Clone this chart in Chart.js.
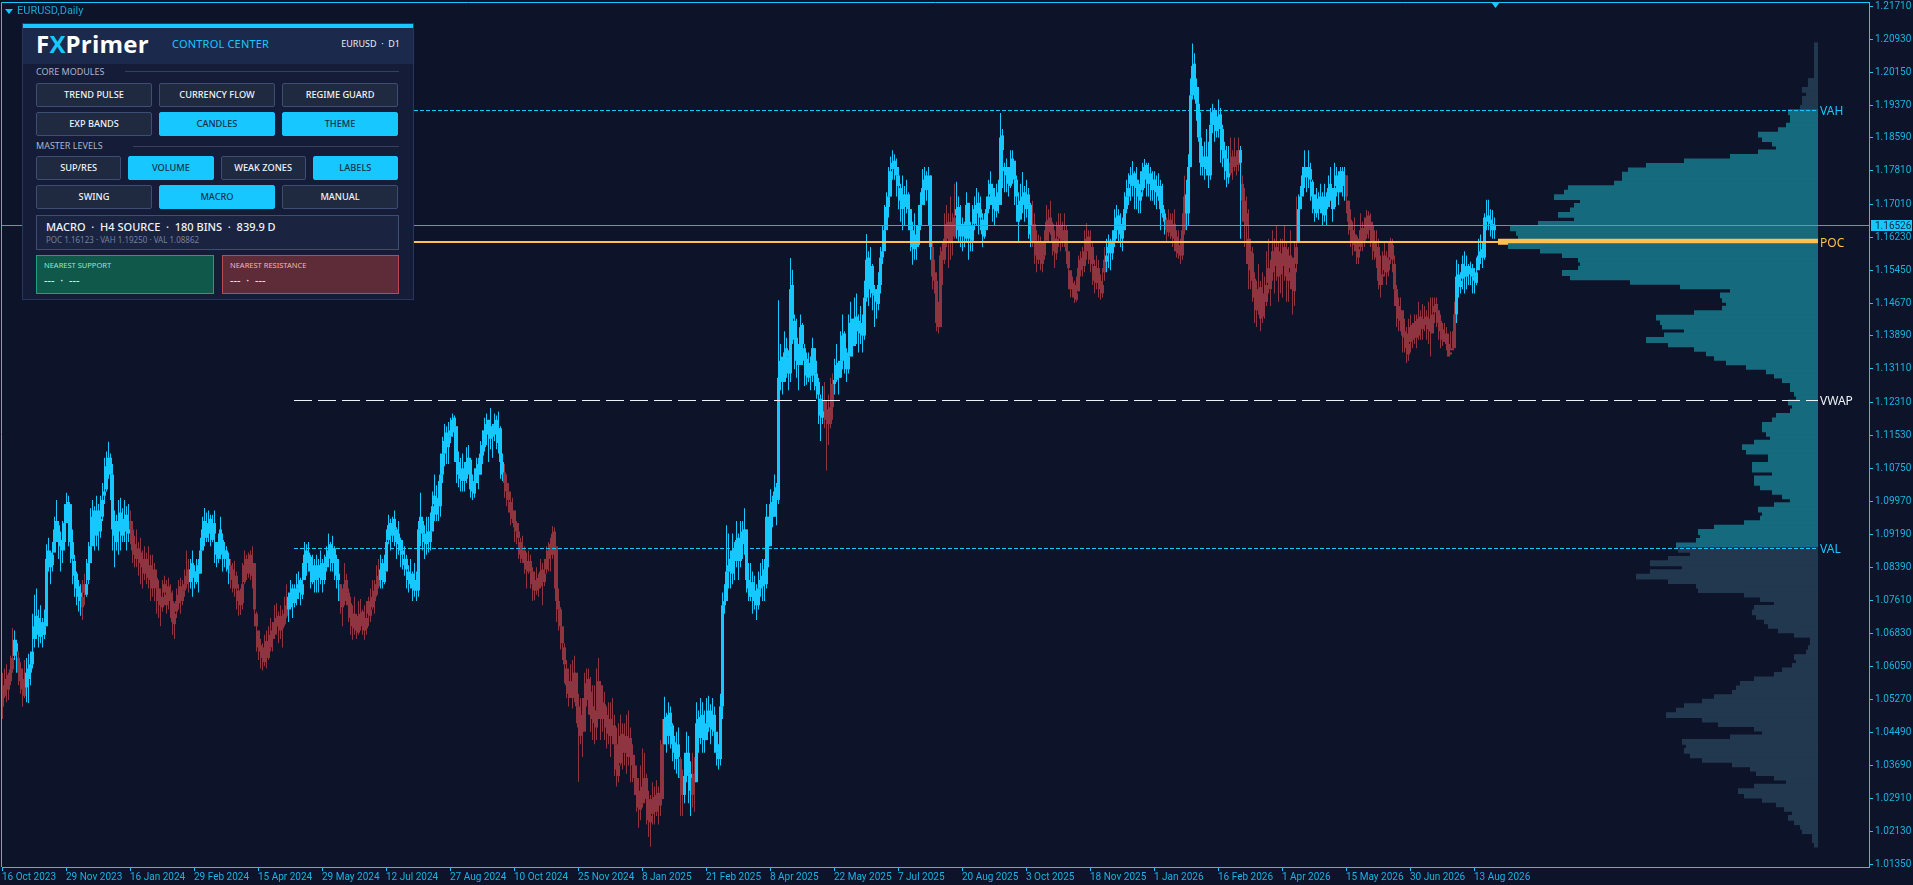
<!DOCTYPE html>
<html>
<head>
<meta charset="utf-8">
<title>EURUSD,Daily</title>
<script src="https://cdn.jsdelivr.net/npm/chart.js@4/dist/chart.umd.min.js"></script>
<style>
  html, body { margin: 0; padding: 0; background: #0d1328; overflow: hidden; }
  #stage { position: relative; width: 1913px; height: 885px; background: #0d1328; font-family: "Noto Sans", Roboto, sans-serif; }
  canvas { position: absolute; left: 0; top: 0; }
  #profile { z-index: 1; }
  #price { z-index: 2; }
  #symbol { position: absolute; z-index: 3; left: 17px; top: 3px; font: 11px/16px Roboto, sans-serif; color: #16a9d6; }
  #symbol-arrow { position: absolute; z-index: 3; left: 5px; top: 9px; border-left: 4px solid transparent; border-right: 4px solid transparent; border-top: 5px solid #17c7ff; }
  #panel { position: absolute; z-index: 3; left: 22px; top: 23px; width: 392px; height: 277px; background: #141c38; border: 1px solid #27365c; box-sizing: border-box; }
  #panel div { position: absolute; box-sizing: border-box; white-space: nowrap; }
  .stripe { left: 0; top: 0; width: 100%; height: 4px; background: #17c7ff; }
  .head { left: 0; top: 4px; width: 100%; height: 36px; background: #1b2a4c; }
  .logo { left: 13px; top: 7px; font: 700 24px/26px "Open Sans", sans-serif; color: #fff; letter-spacing: 0.2px; }
  .logo span { color: #17c7ff; }
  .title { left: 149px; top: 12px; font: 11px/16px "Noto Sans", sans-serif; color: #17c7ff; letter-spacing: 0.2px; }
  .pair { right: 13px; top: 13px; font: 9px/14px "Noto Sans", sans-serif; color: #e8eef8; }
  .group { left: 13px; font: 9px/12px "Noto Sans", sans-serif; color: #aab6cf; }
  .rule { height: 1px; background: #33415f; }
  .btn { height: 24px; line-height: 22px; text-align: center; font-size: 9.2px; font-weight: 500; color: #f0f4fa; background: #1f2a40; border: 1px solid #3d4d73; border-radius: 2px; }
  .btn.on { background: #17c7ff; border-color: #17c7ff; color: #14304a; }
  .info { left: 13px; top: 191px; width: 363px; height: 35px; background: #1a2340; border: 1px solid #3d4d73; }
  .info b { position: absolute; left: 9px; top: 3px; font: 500 11px/16px "Noto Sans", sans-serif; color: #eef3fa; white-space: nowrap; }
  .info i { position: absolute; left: 9px; top: 18px; font: normal 8px/12px "Noto Sans", sans-serif; color: #74829f; white-space: nowrap; }
  .near { top: 231px; height: 39px; border: 1px solid; }
  .near.sup { left: 13px; width: 178px; background: #10594a; border-color: #1f9f7c; }
  .near.res { left: 199px; width: 177px; background: #5e2b38; border-color: #bd4855; }
  .near u { position: absolute; left: 7px; top: 4px; font: 7.5px/10px "Noto Sans", sans-serif; text-decoration: none; white-space: nowrap; }
  .near.sup u { color: #9be4c8; }
  .near.res u { color: #f2b6bc; }
  .near em { position: absolute; left: 7px; top: 17px; font: normal 11px/14px "Noto Sans", sans-serif; color: #f0f4fa; white-space: nowrap; }
</style>
</head>
<body>
<div id="stage">
  <canvas id="profile" width="1913" height="885"></canvas>
  <canvas id="price" width="1913" height="885"></canvas>
  <div id="symbol-arrow"></div>
  <div id="symbol">EURUSD,Daily</div>
  <div id="panel"></div>
</div>
<script>
// daily candles in 1/10000 of a price, one line per 32 bars (= one date label)
const opens = [
10510,10535,10550,10585,10570,10598,10630,10660,10625,10600,10575,10535,10555,10575,10610,10610,10670,10690,10720,10675,10710,10680,10700,10850,10875,10845,10875,10925,10940,10905,10880,10900,
10945,10960,10990,10900,10855,10825,10795,10780,10745,10800,10775,10810,10850,10890,10975,10915,10975,10925,10960,11010,11025,11075,11100,11060,10950,10900,10925,10970,10915,10930,10965,10920,
10950,10930,10895,10860,10885,10875,10860,10825,10860,10815,10845,10790,10835,10815,10790,10770,10745,10800,10750,10795,10780,10760,10730,10735,10755,10795,10760,10785,10800,10835,10805,10850,
10830,10805,10845,10825,10880,10950,10910,10920,10955,10905,10945,10900,10860,10875,10905,10860,10880,10860,10845,10835,10790,10820,10785,10780,10755,10805,10860,10825,10870,10820,10850,10730,
10690,10655,10650,10615,10665,10625,10650,10690,10680,10700,10725,10690,10725,10705,10725,10770,10745,10790,10755,10765,10790,10810,10775,10810,10880,10850,10865,10805,10845,10810,10845,10815,
10850,10810,10840,10860,10895,10850,10885,10860,10825,10800,10770,10760,10810,10780,10755,10730,10695,10725,10685,10705,10735,10720,10695,10760,10725,10745,10785,10775,10795,10810,10850,10805,
10830,10905,10945,10915,10955,10930,10895,10905,10880,10845,10860,10830,10800,10825,10785,10810,10785,10930,10950,10920,10895,10925,10900,10925,11010,10965,11005,10985,11060,11110,11160,11125,
11150,11160,11195,11175,11090,11075,11045,11075,11050,11075,11095,11045,11015,11040,11085,11060,11105,11125,11155,11190,11145,11175,11155,11190,11135,11170,11090,11065,11040,11020,10995,10955,
10975,10945,10925,10900,10860,10880,10855,10830,10855,10830,10810,10785,10815,10795,10835,10805,10835,10860,10895,10870,10925,10890,10760,10740,10700,10650,10600,10570,10530,10570,10530,10590,
10510,10440,10490,10450,10525,10575,10545,10510,10500,10460,10500,10560,10480,10515,10490,10445,10480,10440,10465,10420,10345,10375,10445,10400,10440,10390,10435,10395,10370,10340,10310,10265,
10280,10310,10340,10290,10235,10255,10295,10260,10305,10275,10290,10420,10485,10440,10495,10465,10425,10385,10420,10385,10340,10300,10345,10400,10350,10300,10350,10330,10480,10435,10490,10465,
10430,10470,10500,10455,10490,10450,10400,10385,10510,10750,10760,10830,10860,10825,10885,10855,10910,10855,10925,10895,10930,10810,10770,10805,10760,10785,10750,10790,10795,10835,10800,10960,
10890,10995,10960,11030,11000,11285,11340,11280,11360,11340,11300,11510,11425,11385,11345,11320,11415,11360,11335,11290,11325,11295,11360,11300,11280,11240,11195,11235,11215,11195,11180,11220,
11275,11285,11325,11290,11330,11395,11350,11310,11340,11430,11365,11435,11425,11395,11420,11390,11480,11575,11500,11555,11485,11500,11465,11510,11575,11590,11640,11695,11720,11785,11805,11790,
11770,11740,11690,11725,11695,11725,11690,11640,11595,11630,11605,11650,11700,11735,11770,11735,11770,11600,11540,11520,11425,11410,11590,11570,11620,11660,11610,11660,11625,11675,11695,11625,
11655,11645,11620,11705,11640,11615,11655,11680,11705,11670,11665,11625,11640,11690,11725,11740,11705,11685,11730,11700,11865,11790,11790,11775,11745,11790,11805,11760,11700,11665,11705,11730,
11690,11725,11700,11610,11655,11610,11570,11610,11560,11580,11615,11665,11635,11655,11620,11585,11625,11650,11615,11625,11640,11590,11545,11515,11510,11475,11495,11545,11575,11555,11590,11625,
11570,11600,11555,11515,11550,11520,11490,11540,11565,11585,11615,11585,11615,11640,11675,11655,11620,11640,11690,11720,11770,11745,11775,11740,11750,11710,11735,11770,11795,11750,11775,11735,
11760,11745,11720,11745,11680,11680,11665,11635,11665,11625,11655,11625,11585,11605,11580,11640,11725,11680,11790,11960,12035,11980,11940,11860,11790,11815,11785,11815,11770,11890,11925,11875,
11885,11915,11880,11830,11810,11765,11775,11815,11790,11815,11795,11830,11750,11710,11650,11620,11545,11585,11525,11485,11450,11505,11435,11490,11470,11515,11545,11540,11590,11555,11590,11535,
11585,11555,11595,11520,11550,11575,11495,11560,11610,11690,11720,11765,11785,11765,11785,11755,11725,11680,11715,11695,11715,11675,11715,11695,11725,11740,11695,11745,11765,11730,11780,11745,
11770,11710,11665,11640,11605,11625,11595,11600,11645,11615,11630,11675,11640,11650,11615,11575,11600,11510,11530,11545,11575,11545,11575,11605,11560,11500,11460,11425,11450,11385,11395,11345,
11375,11415,11385,11425,11390,11435,11405,11415,11435,11405,11430,11395,11445,11465,11450,11425,11405,11375,11395,11370,11345,11355,11360,11440,11535,11505,11525,11555,11530,11555,11535,11550,
11530,11515,11545,11575,11595,11575,11665,11675,11665,11655,11640
];
const closes = [
10540,10560,10575,10550,10598,10625,10668,10640,10590,10570,10550,10560,10590,10600,10590,10640,10700,10725,10680,10705,10680,10700,10860,10880,10840,10870,10930,10950,10900,10890,10900,10945,
10990,10995,10900,10860,10820,10790,10770,10760,10770,10780,10800,10850,10890,10960,10950,10950,10930,10955,11000,11020,11080,11100,11060,10930,10915,10930,10950,10940,10945,10955,10925,10950,
10930,10880,10870,10880,10860,10850,10840,10850,10830,10840,10810,10820,10810,10790,10760,10750,10770,10780,10775,10770,10760,10710,10705,10760,10775,10770,10785,10800,10820,10810,10835,10820,
10815,10830,10825,10880,10930,10915,10940,10945,10925,10930,10920,10870,10880,10930,10870,10880,10860,10835,10825,10810,10820,10790,10760,10750,10800,10845,10840,10850,10845,10850,10740,10700,
10650,10640,10625,10640,10630,10650,10680,10670,10710,10720,10700,10715,10695,10730,10750,10740,10780,10760,10770,10790,10800,10780,10800,10870,10860,10875,10830,10835,10815,10840,10820,10845,
10810,10840,10865,10880,10870,10880,10860,10820,10810,10760,10745,10800,10780,10750,10720,10700,10730,10690,10710,10730,10700,10690,10720,10730,10740,10770,10760,10800,10820,10835,10820,10830,
10900,10940,10920,10945,10930,10900,10920,10880,10870,10860,10835,10810,10820,10790,10810,10785,10930,10960,10920,10900,10915,10900,10925,10985,10990,11000,10985,11060,11110,11140,11130,11150,
11165,11190,11175,11090,11060,11050,11070,11045,11090,11100,11025,11020,11040,11075,11060,11110,11130,11165,11180,11160,11170,11150,11180,11160,11170,11090,11060,11040,11020,11000,10970,10975,
10935,10925,10910,10870,10880,10850,10835,10850,10830,10800,10785,10810,10790,10830,10810,10825,10860,10880,10870,10920,10890,10760,10740,10700,10660,10610,10560,10540,10560,10535,10590,10510,
10460,10475,10450,10530,10565,10540,10490,10480,10470,10500,10570,10480,10520,10480,10460,10470,10440,10465,10420,10360,10370,10440,10415,10425,10400,10430,10390,10370,10340,10300,10270,10280,
10320,10340,10290,10240,10250,10290,10260,10300,10275,10290,10420,10480,10440,10490,10465,10420,10400,10410,10390,10340,10300,10345,10400,10350,10310,10340,10330,10470,10440,10485,10460,10430,
10470,10500,10460,10490,10450,10400,10385,10510,10750,10760,10830,10845,10830,10880,10860,10905,10860,10910,10900,10930,10810,10790,10800,10770,10775,10750,10790,10810,10820,10800,10960,10890,
10990,10960,11020,11000,11290,11330,11280,11350,11340,11300,11500,11430,11380,11330,11320,11410,11370,11330,11295,11310,11295,11360,11300,11270,11250,11200,11230,11210,11190,11180,11220,11275,
11285,11320,11290,11330,11390,11345,11310,11340,11420,11370,11430,11420,11400,11410,11390,11480,11570,11500,11550,11490,11490,11470,11510,11575,11590,11640,11695,11720,11780,11800,11790,11770,
11745,11710,11715,11700,11720,11690,11640,11600,11620,11600,11650,11700,11740,11760,11740,11765,11600,11530,11520,11420,11410,11580,11570,11620,11655,11620,11650,11630,11670,11690,11640,11650,
11630,11625,11700,11640,11620,11650,11690,11700,11680,11690,11630,11640,11690,11720,11750,11700,11690,11720,11700,11860,11830,11780,11770,11750,11790,11810,11760,11720,11660,11710,11720,11700,
11710,11700,11630,11650,11615,11580,11600,11570,11580,11610,11660,11640,11670,11610,11590,11620,11650,11620,11630,11640,11590,11550,11500,11500,11480,11490,11550,11570,11560,11590,11620,11600,
11600,11560,11520,11540,11515,11500,11510,11570,11580,11600,11590,11610,11640,11670,11650,11630,11640,11690,11720,11740,11750,11770,11750,11760,11720,11730,11780,11790,11760,11770,11750,11760,
11740,11730,11745,11690,11700,11660,11640,11660,11635,11650,11620,11590,11600,11580,11640,11720,11680,11790,11960,12030,11980,11940,11860,11800,11810,11790,11810,11770,11890,11920,11890,11900,
11910,11880,11830,11810,11780,11790,11800,11790,11810,11800,11830,11800,11710,11660,11680,11560,11590,11520,11480,11450,11500,11430,11480,11470,11510,11550,11500,11590,11560,11600,11530,11570,
11560,11600,11530,11540,11580,11500,11550,11600,11690,11720,11770,11790,11770,11790,11760,11720,11690,11710,11690,11720,11680,11720,11690,11740,11750,11690,11740,11770,11730,11780,11750,11770,
11720,11660,11640,11610,11630,11590,11575,11640,11620,11630,11670,11650,11660,11610,11590,11600,11520,11530,11535,11580,11540,11570,11610,11570,11500,11460,11430,11450,11390,11400,11360,11370,
11410,11380,11420,11385,11430,11410,11420,11430,11415,11425,11400,11440,11460,11450,11420,11400,11380,11390,11370,11340,11350,11360,11440,11530,11510,11520,11560,11530,11550,11540,11545,11530,
11520,11540,11580,11590,11575,11670,11670,11660,11655,11640,11653
];
const highs = [
10590,10600,10610,10590,10630,10696,10690,10668,10640,10615,10600,10620,10625,10635,10640,10730,10775,10790,10740,10750,10720,10740,10895,10910,10880,10900,10960,11000,10950,10925,10950,10990,
11017,11010,10975,10930,10870,10830,10810,10800,10810,10825,10860,10900,10980,11000,10985,11010,10990,11010,11040,11100,11115,11138,11110,11085,10975,10965,11000,11005,10980,11000,10985,10990,
10975,10950,10915,10930,10900,10910,10880,10890,10875,10890,10870,10870,10850,10835,10810,10790,10810,10820,10810,10815,10800,10785,10755,10790,10810,10815,10810,10835,10880,10860,10860,10880,
10845,10860,10860,10910,10960,10981,10970,10975,10965,10965,10975,10900,10920,10960,10920,10900,10890,10875,10860,10850,10855,10830,10800,10790,10850,10880,10870,10875,10880,10890,10790,10735,
10690,10670,10660,10680,10690,10700,10720,10710,10750,10755,10735,10750,10740,10770,10800,10780,10810,10800,10800,10825,10830,10815,10850,10900,10895,10900,10870,10870,10860,10870,10860,10880,
10860,10870,10890,10920,10900,10915,10890,10870,10860,10800,10790,10850,10825,10790,10770,10750,10770,10730,10760,10765,10740,10750,10760,10770,10790,10810,10810,10845,10860,10870,10860,10870,
10930,10965,10955,10960,10975,10935,10950,10910,10905,10890,10870,10845,10860,10830,10850,10830,10950,11017,10960,10940,10960,10960,10970,11020,11060,11035,11045,11110,11150,11180,11175,11185,
11195,11205,11200,11150,11115,11100,11110,11090,11125,11130,11100,11060,11075,11100,11100,11140,11165,11195,11205,11190,11218,11180,11205,11200,11210,11175,11110,11085,11060,11040,11020,11005,
10965,10950,10945,10910,10915,10890,10875,10880,10870,10840,10830,10840,10825,10860,10850,10860,10890,10900,10910,10938,10935,10880,10790,10745,10700,10660,10620,10600,10610,10620,10630,10570,
10540,10530,10530,10590,10600,10600,10580,10560,10560,10600,10625,10570,10560,10545,10510,10520,10520,10530,10490,10460,10470,10490,10470,10470,10490,10500,10460,10420,10395,10370,10340,10370,
10410,10400,10350,10310,10300,10330,10320,10335,10320,10430,10480,10533,10495,10520,10510,10470,10440,10450,10460,10390,10360,10400,10450,10440,10380,10400,10390,10520,10500,10530,10520,10500,
10530,10535,10515,10530,10510,10440,10420,10540,10780,10800,10940,10920,10880,10920,10900,10950,10920,10950,10950,10980,10900,10850,10850,10830,10820,10800,10830,10850,10860,10860,10990,10960,
11025,11010,11060,11040,11474,11370,11330,11400,11385,11355,11574,11546,11440,11430,11370,11440,11420,11370,11350,11350,11340,11385,11360,11330,11290,11250,11270,11280,11235,11250,11290,11300,
11335,11370,11330,11400,11440,11400,11360,11440,11470,11430,11480,11490,11440,11460,11440,11520,11631,11590,11600,11560,11510,11500,11540,11600,11650,11700,11730,11790,11815,11830,11820,11810,
11790,11750,11770,11745,11760,11730,11690,11660,11680,11650,11700,11730,11785,11790,11780,11790,11770,11610,11570,11540,11470,11600,11610,11680,11700,11680,11720,11680,11750,11755,11720,11700,
11670,11660,11730,11700,11660,11700,11720,11740,11730,11720,11680,11680,11720,11760,11780,11750,11740,11750,11760,11918,11880,11800,11810,11790,11830,11830,11800,11770,11730,11750,11778,11745,
11760,11740,11705,11710,11680,11640,11630,11625,11610,11640,11700,11690,11710,11660,11640,11660,11680,11680,11660,11680,11650,11590,11540,11530,11520,11530,11580,11590,11600,11640,11657,11640,
11640,11610,11570,11580,11570,11535,11550,11600,11620,11630,11620,11640,11690,11700,11690,11680,11670,11730,11760,11775,11790,11804,11780,11790,11760,11780,11800,11809,11800,11800,11790,11780,
11780,11770,11775,11760,11750,11690,11670,11690,11680,11680,11690,11640,11640,11620,11680,11769,11760,11820,12000,12083,12060,12000,11980,11920,11840,11850,11880,11850,11930,11940,11930,11925,
11950,11930,11890,11850,11840,11840,11860,11830,11860,11830,11860,11840,11770,11740,11720,11690,11620,11600,11540,11520,11560,11520,11540,11530,11590,11620,11570,11640,11620,11650,11610,11620,
11620,11650,11610,11600,11640,11570,11610,11720,11725,11745,11790,11830,11790,11830,11800,11760,11720,11740,11730,11750,11730,11750,11730,11770,11790,11740,11800,11790,11780,11790,11790,11790,
11750,11710,11690,11660,11670,11630,11620,11680,11660,11670,11688,11685,11680,11660,11640,11640,11620,11580,11590,11610,11590,11610,11622,11620,11580,11510,11480,11480,11440,11430,11410,11430,
11440,11420,11440,11440,11470,11450,11465,11460,11450,11470,11480,11480,11480,11480,11450,11440,11420,11420,11410,11395,11400,11400,11470,11570,11560,11540,11580,11590,11580,11560,11565,11560,
11550,11575,11620,11630,11610,11680,11712,11712,11690,11688,11670
];
const lows = [
10480,10530,10520,10525,10560,10590,10620,10590,10560,10540,10510,10530,10520,10518,10560,10600,10650,10670,10650,10660,10650,10670,10810,10830,10800,10830,10890,10900,10860,10830,10850,10880,
10960,10890,10850,10800,10770,10750,10735,10725,10715,10750,10770,10800,10860,10900,10880,10890,10880,10910,10950,10990,11020,11050,11000,10880,10840,10880,10870,10880,10900,10900,10880,10900,
10895,10850,10840,10840,10820,10800,10790,10810,10800,10790,10760,10770,10760,10730,10720,10700,10735,10750,10730,10740,10720,10680,10670,10720,10740,10730,10750,10770,10790,10780,10790,10770,
10790,10800,10780,10830,10880,10890,10900,10900,10890,10900,10850,10840,10850,10860,10830,10840,10830,10800,10790,10780,10770,10740,10725,10727,10740,10800,10810,10815,10810,10790,10700,10640,
10620,10600,10595,10605,10600,10620,10640,10640,10670,10680,10660,10670,10650,10700,10720,10710,10740,10720,10745,10750,10765,10750,10765,10830,10820,10830,10790,10800,10780,10780,10780,10800,
10780,10800,10830,10840,10830,10830,10810,10790,10760,10730,10700,10750,10750,10710,10680,10668,10680,10670,10680,10690,10680,10668,10680,10700,10710,10740,10730,10770,10790,10790,10790,10800,
10870,10895,10880,10900,10890,10860,10870,10840,10835,10820,10790,10780,10790,10760,10770,10760,10770,10890,10880,10860,10870,10875,10880,10930,10950,10950,10950,10960,11040,11080,11085,11085,
11135,11150,11090,11040,11030,11020,11020,11020,11040,11060,11005,11000,11005,11040,11025,11060,11085,11115,11130,11090,11120,11100,11140,11120,11110,11050,11045,11005,10985,10970,10940,10945,
10900,10895,10860,10850,10850,10825,10790,10825,10790,10760,10762,10775,10770,10790,10750,10795,10825,10830,10830,10860,10790,10710,10690,10645,10620,10565,10530,10510,10530,10505,10520,10470,
10331,10420,10390,10480,10510,10490,10450,10430,10420,10430,10480,10430,10450,10430,10410,10420,10390,10420,10345,10320,10330,10370,10360,10370,10350,10370,10330,10330,10300,10260,10222,10240,
10270,10280,10230,10200,10177,10230,10230,10250,10230,10250,10330,10420,10400,10420,10410,10380,10360,10350,10340,10250,10250,10280,10330,10280,10250,10270,10260,10390,10400,10420,10400,10400,
10440,10450,10420,10440,10400,10370,10360,10370,10480,10730,10760,10790,10790,10800,10810,10840,10810,10840,10860,10870,10780,10760,10760,10730,10740,10715,10740,10770,10760,10760,10790,10840,
10950,10935,10970,10940,10990,11260,11250,11280,11290,11260,11280,11370,11310,11290,11260,11340,11320,11270,11273,11280,11260,11280,11260,11240,11180,11140,11180,11170,11070,11130,11170,11190,
11250,11280,11250,11290,11310,11300,11280,11300,11350,11340,11370,11370,11350,11370,11350,11380,11470,11460,11480,11450,11410,11430,11450,11490,11560,11600,11650,11670,11720,11760,11760,11720,
11690,11660,11640,11650,11680,11640,11590,11558,11570,11570,11600,11640,11720,11700,11710,11650,11570,11500,11490,11400,11395,11450,11510,11560,11600,11550,11570,11580,11620,11620,11610,11600,
11590,11600,11610,11570,11590,11590,11640,11650,11630,11640,11600,11620,11650,11680,11700,11660,11650,11670,11680,11720,11740,11730,11730,11720,11740,11750,11700,11660,11610,11670,11680,11660,
11670,11620,11600,11600,11560,11540,11560,11545,11540,11570,11620,11610,11630,11580,11550,11570,11600,11590,11600,11600,11560,11500,11480,11480,11467,11470,11510,11530,11530,11540,11570,11560,
11540,11510,11490,11500,11480,11475,11480,11520,11540,11550,11545,11570,11600,11620,11610,11600,11590,11640,11680,11700,11710,11720,11690,11690,11680,11680,11720,11740,11720,11720,11710,11710,
11700,11690,11710,11640,11670,11630,11610,11625,11620,11600,11590,11575,11572,11560,11570,11630,11640,11650,11790,11950,11950,11900,11850,11770,11770,11760,11770,11740,11760,11870,11850,11860,
11860,11800,11790,11760,11742,11750,11770,11760,11780,11770,11780,11620,11660,11600,11560,11500,11500,11470,11420,11410,11440,11400,11420,11430,11460,11490,11460,11520,11490,11520,11470,11490,
11480,11520,11470,11470,11500,11440,11460,11540,11660,11690,11730,11740,11730,11740,11710,11680,11660,11670,11665,11680,11650,11660,11650,11700,11710,11660,11690,11720,11700,11730,11720,11710,
11680,11630,11600,11580,11590,11560,11560,11590,11590,11600,11620,11620,11600,11570,11570,11550,11500,11480,11510,11530,11510,11530,11560,11540,11460,11410,11400,11400,11350,11350,11325,11330,
11350,11360,11370,11360,11380,11380,11380,11400,11380,11370,11340,11400,11420,11410,11380,11360,11365,11375,11355,11352,11355,11360,11380,11420,11480,11490,11500,11490,11500,11510,11510,11490,
11490,11510,11550,11560,11550,11570,11640,11640,11625,11620,11620
];
// last bar of each colour run, starting with red and alternating with blue
const regimeEnds = [5,7,11,39,41,63,93,113,142,168,188,250,330,338,340,344,346,410,415,464,476,514,551,581,591,613,618,619,647,671,726,746];

const dateLabels = ["16 Oct 2023","29 Nov 2023","16 Jan 2024","29 Feb 2024","15 Apr 2024","29 May 2024","12 Jul 2024","27 Aug 2024","10 Oct 2024","25 Nov 2024","8 Jan 2025","21 Feb 2025","8 Apr 2025","22 May 2025","7 Jul 2025","20 Aug 2025","3 Oct 2025","18 Nov 2025","1 Jan 2026","16 Feb 2026","1 Apr 2026","15 May 2026","30 Jun 2026","13 Aug 2026"];
const barsPerLabel = 32;
const priceTicks = [1.21710,1.20930,1.20150,1.19370,1.18590,1.17810,1.17010,1.16230,1.15450,1.14670,1.13890,1.13110,1.12310,1.11530,1.10750,1.09970,1.09190,1.08390,1.07610,1.06830,1.06050,1.05270,1.04490,1.03690,1.02910,1.02130,1.01350];
const priceMin = 1.01289, priceMax = 1.21815;

// levels printed in the panel
const poc = 1.16123, vah = 1.19250, val = 1.08862, vwap = 1.12370, lastPrice = 1.16526;
const levelFromBar = 146, levelToBar = 908, barAxisEnd = 933.5;

// volume profile, 180 bins from top to bottom
const profileTop = 1.20842, profileBottom = 1.01767;
const profileVolumes = [
12,12,12,12,12,12,12,12,30,30,48,36,48,48,54,
90,84,84,96,120,180,168,138,126,180,264,402,516,570,588,588,612,750,762,792,714,732,744,780,732,840,924,906,900,960,
930,834,768,720,714,720,768,744,564,414,264,294,288,276,288,372,486,474,468,402,462,516,450,372,336,312,276,216,156,132,
108,84,84,72,66,90,78,84,126,138,168,168,156,144,192,228,216,150,150,198,198,138,192,192,174,138,108,84,132,180,168,174,222,312,360,354,366,426,
420,384,450,504,408,504,546,450,366,360,222,174,132,192,198,186,162,150,120,72,24,24,30,36,72,66,78,108,132,192,
234,246,258,312,348,402,426,456,348,300,192,168,264,408,396,402,384,348,258,204,186,132,96,192,240,222,168,126,102,78,90,72,54,48,18,18,12
];

const CYAN = "#17c7ff", RED = "#8f3542", TEAL = "#156a7d", NAVY = "#21384f", ORANGE = "#ffc04d", AXIS_TEXT = "#18b4e2";
const AXIS_FONT = "Roboto, sans-serif";

const barColors = [];
regimeEnds.forEach((end, run) => {
    while (barColors.length <= end) barColors.push(run % 2 === 0 ? RED : CYAN);
});

// the quarter bar keeps the 1px wicks on whole pixels (one bar is 2px wide)
const wicks = closes.map((_, i) => ({ x: i + 0.25, y: [lows[i] / 10000, highs[i] / 10000] }));
const bodies = closes.map((c, i) => ({ x: i + 0.25, y: [opens[i] / 10000, c / 10000] }));
const levelLine = price => [{ x: levelFromBar, y: price }, { x: levelToBar, y: price }];

// keep the level lines on whole pixels, otherwise they come out grey
const crispLines = {
    id: "crispLines",
    afterDatasetsUpdate(chart) {
        chart.data.datasets.forEach((ds, i) => {
            if (ds.type !== "line") return;
            const shift = ds.borderWidth % 2 ? 0.5 : 0;
            chart.getDatasetMeta(i).data.forEach(pt => { pt.y = Math.round(pt.y) + shift; });
        });
    }
};

// frame, last price tag, level captions and the shift marker
const decorations = {
    id: "decorations",
    afterDraw(chart) {
        const { ctx, chartArea, scales } = chart;
        ctx.save();
        ctx.strokeStyle = CYAN;
        ctx.lineWidth = 1;
        ctx.beginPath();
        ctx.moveTo(1.5, chartArea.bottom);
        ctx.lineTo(1.5, 2.5);
        ctx.lineTo(chartArea.right, 2.5);
        ctx.stroke();

        const tagY = Math.round(scales.y.getPixelForValue(lastPrice));
        ctx.fillStyle = CYAN;
        ctx.fillRect(chartArea.right + 2, tagY - 5, 41, 11);
        ctx.fillStyle = "#0f2a40";
        ctx.font = "10px " + AXIS_FONT;
        ctx.textBaseline = "middle";
        ctx.fillText(lastPrice.toFixed(5), chartArea.right + 6, tagY + 1);

        const capX = scales.x.getPixelForValue(levelToBar) + 2;
        ctx.font = '12px "Noto Sans", sans-serif';
        [["VAH", vah, CYAN], ["POC", poc, ORANGE], ["VWAP", vwap, "#eef3fa"], ["VAL", val, CYAN]].forEach(([name, price, color]) => {
            ctx.fillStyle = color;
            ctx.fillText(name, capX, scales.y.getPixelForValue(price) + 1.5);
        });

        const markX = scales.x.getPixelForValue(closes.length) - 1;
        ctx.fillStyle = CYAN;
        ctx.beginPath();
        ctx.moveTo(markX - 4, 2);
        ctx.lineTo(markX + 5, 2);
        ctx.lineTo(markX + 0.5, 8);
        ctx.fill();
        ctx.restore();
    }
};

new Chart(document.getElementById("price"), {
    type: "bar",
    data: {
        datasets: [
            { label: "poc", type: "line", data: levelLine(poc), borderColor: ORANGE, borderWidth: 2, pointRadius: 0, order: 1 },
            { label: "last", type: "line", data: [{ x: -1, y: lastPrice }, { x: barAxisEnd, y: lastPrice }], borderColor: "#16b4e4", borderWidth: 1, pointRadius: 0, order: 1 },
            { label: "vah", type: "line", data: levelLine(vah), borderColor: CYAN, borderWidth: 1, borderDash: [4, 2], pointRadius: 0, order: 1 },
            { label: "val", type: "line", data: levelLine(val), borderColor: CYAN, borderWidth: 1, borderDash: [4, 2], pointRadius: 0, order: 1 },
            { label: "vwap", type: "line", data: levelLine(vwap), borderColor: "#eef3fa", borderWidth: 1, borderDash: [18, 6], pointRadius: 0, order: 1 },
            { label: "bodies", data: bodies, backgroundColor: barColors, grouped: false, barPercentage: 1.5, categoryPercentage: 1, order: 2 },
            { label: "wicks", data: wicks, backgroundColor: barColors, grouped: false, barPercentage: 0.5, categoryPercentage: 1, order: 3 }
        ]
    },
    options: {
        responsive: false,
        devicePixelRatio: 1,
        animation: false,
        events: [],
        layout: { padding: { left: 2, top: 2, right: 0, bottom: 0 } },
        plugins: { legend: { display: false }, tooltip: { enabled: false } },
        scales: {
            x: {
                type: "linear",
                offset: false,
                min: 0,
                max: barAxisEnd,
                grid: { drawOnChartArea: false, color: CYAN, tickLength: 4, offset: false },
                border: { color: CYAN },
                ticks: {
                    autoSkip: false,
                    maxRotation: 0,
                    align: "start",
                    padding: 0,
                    color: AXIS_TEXT,
                    font: { family: AXIS_FONT, size: 10 },
                    callback: value => dateLabels[value / barsPerLabel]
                },
                afterBuildTicks(axis) {
                    axis.ticks = dateLabels.map((_, i) => ({ value: i * barsPerLabel }));
                },
                afterFit(axis) {
                    axis.height = 18;
                    axis.paddingLeft = 0;
                    axis.paddingRight = 0;
                }
            },
            y: {
                position: "right",
                min: priceMin,
                max: priceMax,
                grid: { drawOnChartArea: false, color: CYAN, tickLength: 4 },
                border: { color: CYAN },
                ticks: {
                    autoSkip: false,
                    padding: 2,
                    color: AXIS_TEXT,
                    font: { family: AXIS_FONT, size: 10 },
                    callback: value => value.toFixed(5)
                },
                afterBuildTicks(axis) {
                    axis.ticks = priceTicks.map(value => ({ value }));
                },
                afterFit(axis) {
                    axis.width = 44;
                    axis.paddingTop = 0;
                    axis.paddingBottom = 0;
                }
            }
        }
    },
    plugins: [crispLines, decorations]
});

const binStep = (profileTop - profileBottom) / profileVolumes.length;
const binPrices = profileVolumes.map((_, i) => profileTop - (i + 0.5) * binStep);
const binColors = binPrices.map(p => {
    if (Math.abs(p - poc) < binStep / 2) return ORANGE;
    return p <= vah && p >= val ? TEAL : NAVY;
});

new Chart(document.getElementById("profile"), {
    type: "bar",
    data: {
        datasets: [{
            data: profileVolumes.map((v, i) => ({ x: v, y: binPrices[i] })),
            backgroundColor: binColors,
            grouped: false,
            barPercentage: 1.3,
            categoryPercentage: 1
        }]
    },
    options: {
        indexAxis: "y",
        responsive: false,
        devicePixelRatio: 1,
        animation: false,
        events: [],
        layout: { padding: { left: 1498, right: 95, top: 2, bottom: 18 } },
        plugins: { legend: { display: false }, tooltip: { enabled: false } },
        scales: {
            x: { type: "linear", reverse: true, min: 0, max: 960, display: false },
            y: { type: "linear", min: priceMin, max: priceMax, display: false, offset: false }
        }
    }
});

// control panel, plain html on top of the chart
const panelRows = [
    { top: 59, items: [["TREND PULSE", 0], ["CURRENCY FLOW", 0], ["REGIME GUARD", 0]] },
    { top: 88, items: [["EXP BANDS", 0], ["CANDLES", 1], ["THEME", 1]] },
    { top: 132, items: [["SUP/RES", 0], ["VOLUME", 1], ["WEAK ZONES", 0], ["LABELS", 1]] },
    { top: 161, items: [["SWING", 0], ["MACRO", 1], ["MANUAL", 0]] }
];
const panel = document.getElementById("panel");
let panelHtml = '<div class="stripe"></div><div class="head"></div>' +
    '<div class="logo">F<span>X</span>Primer</div><div class="title">CONTROL CENTER</div><div class="pair">EURUSD&nbsp; \u00b7&nbsp; D1</div>' +
    '<div class="group" style="top:42px">CORE MODULES</div><div class="rule" style="left:102px;top:47px;width:274px"></div>' +
    '<div class="group" style="top:116px">MASTER LEVELS</div><div class="rule" style="left:110px;top:122px;width:266px"></div>';
panelRows.forEach(row => {
    const gap = 7, width = (362 - gap * (row.items.length - 1)) / row.items.length;
    row.items.forEach(([name, on], i) => {
        const left = 13 + i * (width + gap);
        panelHtml += `<div class="btn${on ? " on" : ""}" style="left:${left}px;top:${row.top}px;width:${width}px">${name}</div>`;
    });
});
panelHtml += '<div class="info"><b>MACRO&nbsp; \u00b7&nbsp; H4 SOURCE&nbsp; \u00b7&nbsp; 180 BINS&nbsp; \u00b7&nbsp; 839.9 D</b><i>POC 1.16123 \u00b7 VAH 1.19250 \u00b7 VAL 1.08862</i></div>' +
    '<div class="near sup"><u>NEAREST SUPPORT</u><em>--- &nbsp;\u00b7&nbsp; ---</em></div>' +
    '<div class="near res"><u>NEAREST RESISTANCE</u><em>--- &nbsp;\u00b7&nbsp; ---</em></div>';
panel.innerHTML = panelHtml;
</script>
</body>
</html>
